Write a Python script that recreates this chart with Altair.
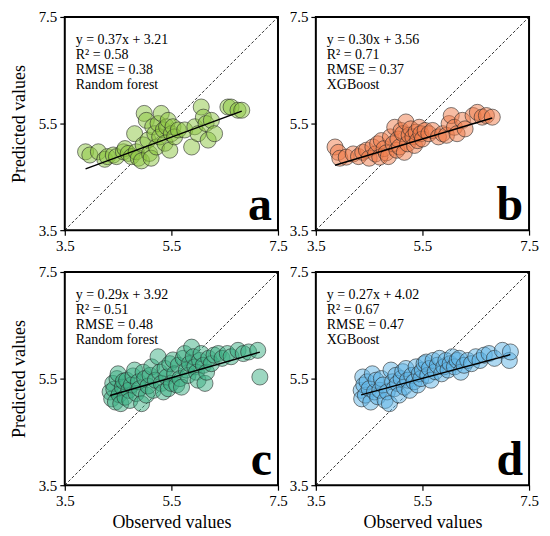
import altair as alt
import pandas as pd

# ---------------- data ----------------
a_x = [3.89,3.97,4.13,4.25,4.30,4.41,4.47,4.60,4.63,4.69,4.75,4.81,4.84,4.88,4.94,4.97,4.99,5.03,5.06,5.09,
       5.12,5.15,5.19,5.22,5.25,5.28,5.31,5.35,5.38,5.41,5.44,5.47,5.50,5.53,5.56,5.63,5.75,5.88,5.94,6.00,
       6.06,6.10,6.15,6.19,6.25,6.31,6.56,6.62,6.75,6.82]
a_y = [4.97,4.91,4.97,4.83,4.88,4.91,4.88,4.97,5.03,4.94,4.88,5.31,4.97,4.85,4.80,5.10,5.69,5.56,5.19,4.94,
       4.85,5.44,5.31,5.06,5.50,5.25,5.69,5.38,5.13,5.44,5.56,5.00,5.31,5.44,5.25,5.38,5.38,5.06,5.44,5.31,
       5.81,5.62,5.50,5.19,5.56,5.31,5.81,5.81,5.75,5.75]

b_x = [3.86,3.92,3.95,4.07,4.20,4.30,4.38,4.45,4.50,4.57,4.62,4.66,4.70,4.73,4.78,4.82,4.86,4.90,4.95,4.98,
       5.02,5.04,5.07,5.10,5.13,5.16,5.19,5.22,5.25,5.28,5.32,5.35,5.38,5.41,5.44,5.47,5.50,5.55,5.62,5.69,
       5.80,5.88,5.95,6.00,6.04,6.10,6.15,6.25,6.30,6.45,6.53,6.62,6.70,6.81]
b_y = [5.06,4.96,4.85,4.87,4.93,4.88,4.96,5.00,4.85,5.06,4.93,5.12,4.87,5.18,5.03,4.95,4.88,5.25,5.12,5.43,
       5.00,5.21,5.06,5.37,5.31,4.96,5.53,5.12,5.28,5.40,5.25,5.09,5.34,5.18,5.43,5.31,5.21,5.37,5.31,5.37,
       5.25,5.31,5.28,5.50,5.65,5.43,5.31,5.56,5.40,5.65,5.71,5.62,5.65,5.62]

c_x = [4.35,4.38,4.40,4.42,4.45,4.48,4.50,4.52,4.55,4.58,4.60,4.63,4.66,4.70,4.72,4.75,4.78,4.81,4.84,4.88,
       4.90,4.94,4.97,5.00,5.03,5.06,5.10,5.13,5.16,5.20,5.25,5.28,5.31,5.35,5.38,5.41,5.44,5.47,5.50,5.53,
       5.56,5.60,5.63,5.66,5.69,5.72,5.75,5.78,5.81,5.84,5.88,5.91,5.94,5.97,6.00,6.03,6.06,6.10,6.13,6.16,
       6.20,6.25,6.30,6.38,6.45,6.55,6.62,6.75,6.85,6.95,7.12,7.16]
c_y = [5.25,5.12,5.41,5.30,5.06,5.50,5.59,5.20,5.03,5.34,5.45,5.15,5.47,5.28,5.09,5.38,5.55,5.66,5.22,5.44,
       5.31,5.03,5.62,5.50,5.19,5.36,5.56,5.72,5.28,5.47,5.91,5.62,5.41,5.25,5.69,5.53,5.31,5.78,5.41,5.85,
       5.59,5.38,5.75,5.50,5.34,5.88,5.97,5.66,5.56,5.78,6.09,5.91,5.72,5.62,5.47,5.84,5.97,5.75,5.41,5.62,
       5.88,5.78,5.94,5.97,5.88,5.97,5.91,6.03,5.97,6.00,6.03,5.53]

d_x = [4.35,4.36,4.38,4.40,4.43,4.46,4.50,4.53,4.56,4.60,4.63,4.66,4.70,4.73,4.76,4.80,4.84,4.88,4.91,4.94,
       4.97,5.00,5.03,5.06,5.10,5.13,5.16,5.19,5.22,5.26,5.30,5.34,5.38,5.41,5.44,5.47,5.50,5.53,5.57,5.60,
       5.63,5.66,5.70,5.74,5.78,5.82,5.86,5.90,5.94,5.98,6.02,6.06,6.10,6.15,6.19,6.22,6.28,6.35,6.42,6.50,
       6.58,6.66,6.75,6.85,7.00,7.13,7.15]
d_y = [5.28,5.12,5.53,5.38,5.19,5.44,5.31,5.06,5.59,5.25,5.47,5.16,5.28,5.50,5.38,5.09,5.25,5.03,5.66,5.44,
       5.31,5.56,5.41,5.19,5.50,5.63,5.34,5.69,5.47,5.28,5.56,5.44,5.72,5.38,5.59,5.50,5.66,5.78,5.81,5.56,
       5.69,5.47,5.84,5.63,5.75,5.88,5.59,5.72,5.84,5.66,5.78,5.91,5.72,5.84,5.88,5.62,5.75,5.84,5.78,5.91,
       5.84,5.94,5.97,5.88,6.03,5.84,6.00]

slopes = [0.37, 0.30, 0.29, 0.27]
intercepts = [3.21, 3.56, 3.92, 4.02]
r2 = ["0.58", "0.71", "0.51", "0.67"]
rmse = ["0.38", "0.37", "0.48", "0.47"]
models = ["Random forest", "XGBoost", "Random forest", "XGBoost"]
letters = ["a", "b", "c", "d"]
colors = ["#8cc63f", "#f07c4a", "#3cb083", "#5db3e6"]
ticks = [3.5, 5.5, 7.5]

SERIF = "Liberation Serif"
W = 214


def panel(i, xs, ys, show_x_title, show_y_title):
    df = pd.DataFrame({"obs": xs, "pred": ys})
    sc = alt.Scale(domain=[3.5, 7.5], nice=False, zero=False)
    xax = alt.Axis(values=ticks, grid=False, domain=False, tickColor="black", tickWidth=1.2,
                   tickSize=5, labelFont=SERIF, labelFontSize=15, labelColor="black",
                   labelFlush=False, labelPadding=3,
                   titleFont=SERIF, titleFontSize=18, titleFontWeight="normal", titleColor="black",
                   titlePadding=4, minExtent=24, maxExtent=24, format=".1f")
    yax = alt.Axis(values=ticks, grid=False, domain=False, tickColor="black", tickWidth=1.2,
                   tickSize=5, labelFont=SERIF, labelFontSize=15, labelColor="black",
                   labelFlush=False, labelPadding=3,
                   titleFont=SERIF, titleFontSize=18, titleFontWeight="normal", titleColor="black",
                   titlePadding=6, minExtent=30, maxExtent=30, format=".1f")
    xt = "Observed values" if show_x_title else None
    yt = "Predicted values" if show_y_title else None

    one = pd.DataFrame({"obs": [3.5, 7.5], "pred": [3.5, 7.5]})
    diag = alt.Chart(one).mark_line(color="black", strokeWidth=0.8, strokeDash=[3, 2]).encode(
        x=alt.X("obs:Q", scale=sc, axis=xax, title=xt),
        y=alt.Y("pred:Q", scale=sc, axis=yax, title=yt),
    )

    pts = alt.Chart(df).mark_circle(size=260, color=colors[i], fillOpacity=0.5,
                                    stroke="#2a2a2a", strokeOpacity=0.6, strokeWidth=1,
                                    opacity=1).encode(
        x=alt.X("obs:Q", scale=sc), y=alt.Y("pred:Q", scale=sc))

    x0, x1 = min(xs), max(xs)
    reg = pd.DataFrame({"obs": [x0, x1],
                        "pred": [slopes[i] * x0 + intercepts[i], slopes[i] * x1 + intercepts[i]]})
    regl = alt.Chart(reg).mark_line(color="black", strokeWidth=1.5).encode(
        x=alt.X("obs:Q", scale=sc), y=alt.Y("pred:Q", scale=sc))

    lines = [f"y = {slopes[i]:.2f}x + {intercepts[i]:.2f}", f"R\u00b2 = {r2[i]}",
             f"RMSE = {rmse[i]}", models[i]]
    txts = []
    for k, t in enumerate(lines):
        tdf = pd.DataFrame({"t": [t]})
        txts.append(alt.Chart(tdf).mark_text(align="left", baseline="middle", font=SERIF,
                                             fontSize=14, color="black").encode(
            x=alt.value(11), y=alt.value(23 + 15 * k), text="t:N"))

    ldf = pd.DataFrame({"t": [letters[i]]})
    let = alt.Chart(ldf).mark_text(align="right", baseline="alphabetic", font=SERIF, fontSize=48,
                                   fontWeight="bold", color="black").encode(
        x=alt.value(W - 6), y=alt.value(W - 10), text="t:N")

    return alt.layer(diag, pts, regl, *txts, let).properties(width=W, height=W)


pa = panel(0, a_x, a_y, False, True)
pb = panel(1, b_x, b_y, False, False)
pc = panel(2, c_x, c_y, True, True)
pd_ = panel(3, d_x, d_y, True, False)

chart = alt.vconcat(
    alt.hconcat(pa, pb, spacing=38, bounds="flush"),
    alt.hconcat(pc, pd_, spacing=38, bounds="flush"),
    spacing=9,
).properties(
    padding={"left": 2, "top": 0, "right": 2, "bottom": 2},
    background="white",
).configure_view(stroke="black", strokeWidth=2)

chart.save("out.html", embed_options={"renderer": "svg", "actions": False})
